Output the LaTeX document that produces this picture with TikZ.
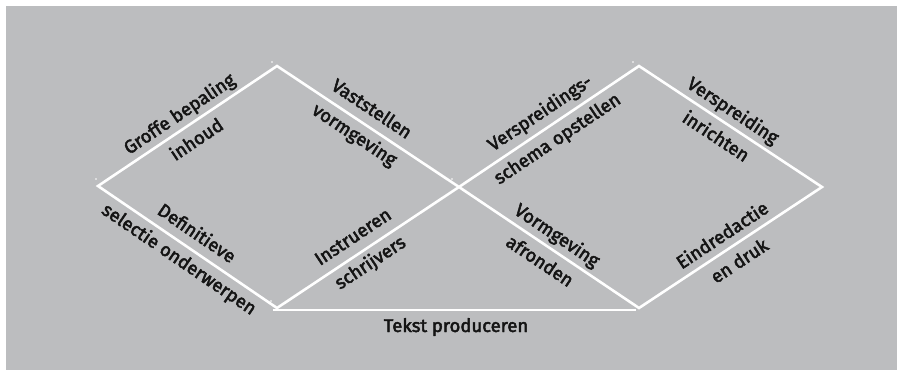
\documentclass[tikz,border=0pt]{standalone}
\usepackage{fontspec}
\newfontfamily\lblfont{Fira Sans}[FakeBold=2.6]
\definecolor{panel}{RGB}{188,189,191}
\definecolor{ink}{RGB}{20,20,20}
\begin{document}
\begin{tikzpicture}[x=1pt,y=-1pt,
  edge/.style={draw=white, line width=2.6pt, line join=miter},
  lbl/.style={font=\lblfont\fontsize{18.5}{31}\selectfont, align=center,
              inner sep=0pt, text=ink},
  speck/.style={fill=white, circle, inner sep=0pt, minimum size=1.8pt}]
\useasboundingbox (0,0) rectangle (897,370);
\fill[white] (0,0) rectangle (897,370);
\fill[panel] (6,6) rectangle (897,370);

% corner points of the double diamond
\coordinate (L)  at (98,186);
\coordinate (T1) at (277,66);
\coordinate (B1) at (277,308);
\coordinate (C)  at (459,187);
\coordinate (T2) at (639,66);
\coordinate (B2) at (639,308);
\coordinate (R)  at (822,187);
\coordinate (H1) at (273,310);
\coordinate (H2) at (636,310);

% the two diamonds, crossing in the middle
\draw[edge] (B1) -- (L) -- (T1) -- (C) -- (B2) -- (R) -- (T2) -- (C) -- cycle;
% base line
\draw[edge, line width=2.4pt] (H1) -- (H2);

% phase labels along the edges
\path (L) -- (T1) node[midway, sloped, lbl] {Groffe bepaling\\inhoud};
\path (T1) -- (C) node[pos=0.47, sloped, lbl] {Vaststellen\\vormgeving};
\path (L) -- (B1) node[midway, sloped, lbl] {Definitieve\\selectie onderwerpen};
\path (B1) -- (C) node[pos=0.47, sloped, lbl] {Instrueren\\schrijvers};
\path (C) -- (T2) node[midway, sloped, lbl] {Verspreidings-\\schema opstellen};
\path (T2) -- (R) node[pos=0.47, sloped, lbl] {Verspreiding\\inrichten};
\path (C) -- (B2) node[midway, sloped, lbl] {Vormgeving\\afronden};
\path (B2) -- (R) node[midway, sloped, lbl] {Eindredactie\\en druk};
\node[lbl, anchor=base] (tp) at (456,332) {Tekst produceren};

% small registration specks near the corners
\node[speck] (s1) at (96,179) {};
\node[speck] (s2) at (272,62) {};
\node[speck] (s3) at (633,62) {};
\node[speck] (s4) at (271,301) {};
\node[speck] (s5) at (452,179) {};
\end{tikzpicture}
\end{document}
